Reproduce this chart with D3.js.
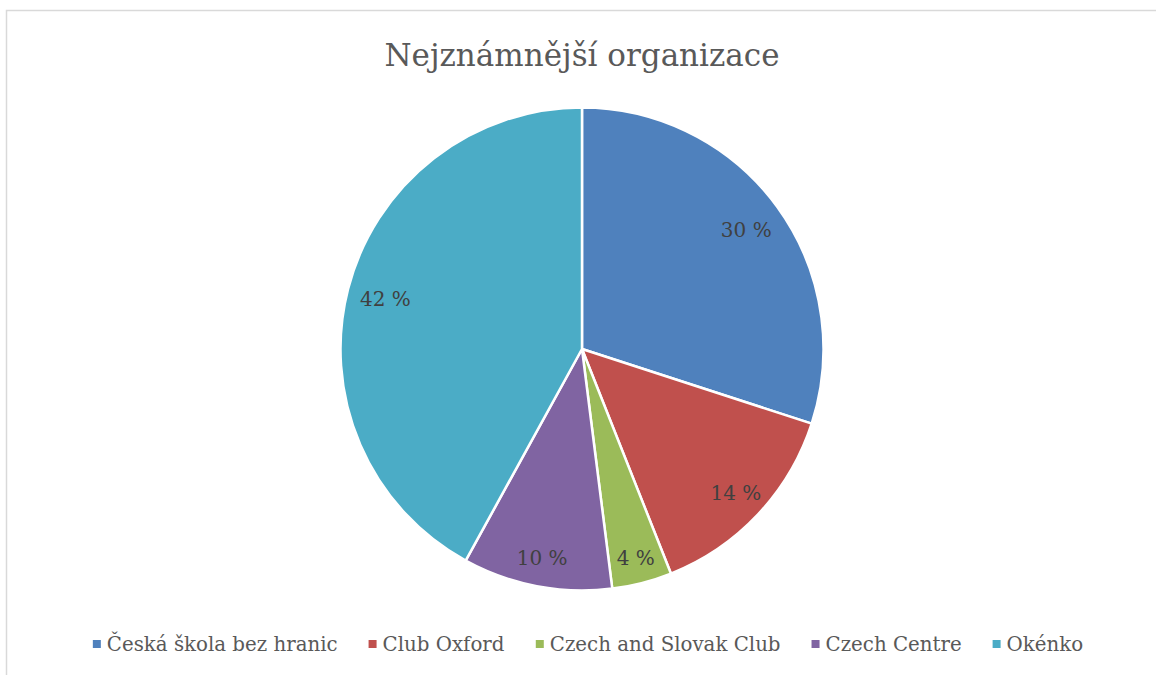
<!DOCTYPE html>
<html>
<head>
<meta charset="utf-8">
<script src="https://cdn.jsdelivr.net/npm/d3@7"></script>
<style>
  body { margin: 0; background: #fff; }
  text { font-family: "DejaVu Serif", "Liberation Serif", serif; }
</style>
</head>
<body>
<div id="chart"></div>
<script>
const categories = ["Česká škola bez hranic", "Club Oxford", "Czech and Slovak Club", "Czech Centre", "Okénko"];
const values = [30, 14, 4, 10, 42];
const colors = ["#4F81BD", "#C0504D", "#9BBB59", "#8064A2", "#4BACC6"];
const title = "Nejznámnější organizace";

const W = 1156, H = 675;
const cx = 582, cy = 349, radius = 241.5;

const svg = d3.select("#chart").append("svg")
    .attr("width", W)
    .attr("height", H);

// chart frame (runs off the right/bottom edge like the screenshot)
svg.append("rect")
    .attr("x", 6.5).attr("y", 10.5)
    .attr("width", W + 10).attr("height", H + 10)
    .attr("fill", "#fff")
    .attr("stroke", "#d9d9d9")
    .attr("stroke-width", 1.5);

svg.append("text")
    .attr("x", 582).attr("y", 66)
    .attr("text-anchor", "middle")
    .attr("font-size", 31)
    .attr("fill", "#595959")
    .text(title);

const data = categories.map((c, i) => ({ name: c, value: values[i], color: colors[i] }));

const pie = d3.pie().sort(null).value(d => d.value);
const arc = d3.arc().innerRadius(0).outerRadius(radius);
const total = d3.sum(values);

const g = svg.append("g").attr("transform", `translate(${cx},${cy})`);

const arcs = pie(data);

g.selectAll(".slice")
    .data(arcs)
    .enter().append("path")
    .attr("class", "slice")
    .attr("d", arc)
    .attr("fill", d => d.data.color)
    .attr("stroke", "#fff")
    .attr("stroke-width", 2.5)
    .attr("stroke-linejoin", "round");

// small slices get their labels pushed further out
const labelR = d3.scaleLinear().domain([4, 30]).range([216, 203]).clamp(true);

g.selectAll(".lbl")
    .data(arcs)
    .enter().append("text")
    .attr("class", "lbl")
    .attr("transform", d => {
        const a = (d.startAngle + d.endAngle) / 2;
        const r = labelR(d.data.value);
        return `translate(${Math.sin(a) * r},${-Math.cos(a) * r})`;
    })
    .attr("text-anchor", "middle")
    .attr("dy", "0.35em")
    .attr("font-size", 20)
    .attr("fill", "#404040")
    .text(d => Math.round(d.data.value / total * 100) + " %");

// legend
const legend = svg.append("g").attr("transform", "translate(0,644)");
const items = legend.selectAll(".item")
    .data(data)
    .enter().append("g")
    .attr("class", "item");

items.append("rect")
    .attr("x", 0).attr("y", -4)
    .attr("width", 8).attr("height", 8)
    .attr("fill", d => d.color);

items.append("text")
    .attr("x", 14)
    .attr("dy", "0.35em")
    .attr("font-size", 19.8)
    .attr("fill", "#595959")
    .text(d => d.name);

const gap = 31;
const widths = [];
items.each(function () { widths.push(this.getBBox().width); });
const totalW = d3.sum(widths) + gap * (widths.length - 1);
let x0 = 588 - totalW / 2;
items.attr("transform", (d, i) => {
    const t = `translate(${x0},0)`;
    x0 += widths[i] + gap;
    return t;
});
</script>
</body>
</html>
